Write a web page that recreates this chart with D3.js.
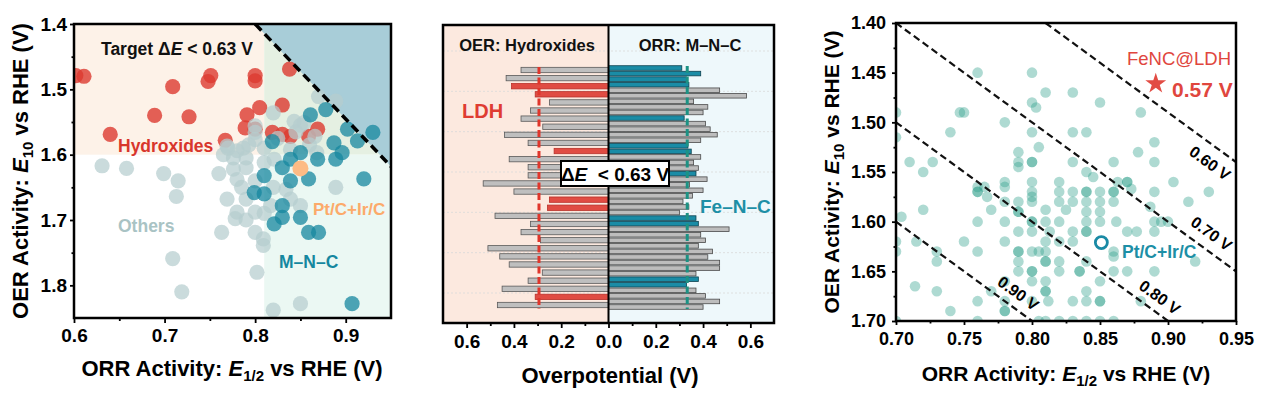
<!DOCTYPE html>
<html><head><meta charset="utf-8">
<script src="https://cdn.jsdelivr.net/npm/d3@7"></script>
<style>
body{margin:0;background:#fff;}
svg{display:block;font-family:"Liberation Sans",Arial,sans-serif;font-weight:bold;}
</style>
</head><body>
<svg id="c" width="1263" height="394"></svg>
<script>
// ---------------- DATA ----------------
// Panel 1: [E1/2 (ORR), E10 (OER)]
const hydroxidePts = [[0.602,1.479],[0.611,1.480],[0.751,1.479],[0.748,1.488],[0.709,1.496],[0.800,1.479],[0.800,1.487],[0.838,1.469],[0.689,1.540],[0.727,1.542],[0.640,1.569],[0.791,1.539],[0.805,1.528],[0.830,1.524],[0.789,1.559],[0.800,1.561],[0.819,1.566],[0.830,1.569],[0.839,1.572],[0.859,1.572],[0.869,1.561],[0.767,1.578]];
const mncPts = [[0.861,1.539],[0.878,1.531],[0.902,1.561],[0.930,1.566],[0.913,1.579],[0.887,1.582],[0.896,1.597],[0.889,1.607],[0.920,1.637],[0.850,1.597],[0.839,1.607],[0.830,1.620],[0.859,1.637],[0.839,1.640],[0.869,1.607],[0.810,1.632],[0.799,1.658],[0.810,1.660],[0.830,1.678],[0.821,1.706],[0.830,1.696],[0.850,1.696],[0.859,1.719],[0.870,1.719],[0.819,1.580],[0.907,1.828]];
const otherPts = [[0.631,1.617],[0.658,1.621],[0.699,1.629],[0.715,1.640],[0.713,1.664],[0.760,1.629],[0.769,1.587],[0.769,1.668],[0.780,1.688],[0.778,1.698],[0.763,1.719],[0.800,1.719],[0.809,1.729],[0.809,1.739],[0.709,1.759],[0.802,1.780],[0.719,1.810],[0.820,1.838],[0.850,1.828],[0.889,1.650],[0.870,1.511],[0.889,1.518],[0.820,1.536],[0.843,1.549],[0.854,1.551],[0.866,1.572],[0.868,1.597],[0.839,1.592],[0.780,1.594],[0.787,1.590],[0.793,1.585],[0.800,1.577],[0.776,1.622],[0.790,1.620],[0.780,1.638],[0.800,1.640],[0.790,1.668],[0.800,1.688],[0.817,1.678],[0.839,1.668],[0.850,1.678],[0.834,1.653],[0.810,1.612],[0.821,1.607],[0.800,1.556],[0.800,1.566],[0.776,1.605],[0.790,1.605],[0.810,1.590],[0.825,1.575],[0.845,1.565],[0.860,1.585],[0.820,1.650],[0.810,1.690],[0.790,1.700],[0.850,1.555],[0.785,1.650],[0.765,1.600],[0.770,1.590]];
const ptcIrc1 = [0.85, 1.621];
const targetLine = [[0.80,1.40],[0.95,1.618]];
const targetTriangle = [[0.80,1.40],[0.95,1.40],[0.95,1.618]];

// Panel 2: overpotentials (V)
const oerOverpot = [0.37,0.433,0.41,0.31,0.25,0.33,0.37,0.278,0.44,0.34,0.23,0.42,0.34,0.34,0.53,0.40,0.25,0.258,0.48,0.33,0.37,0.288,0.51,0.46,0.42,0.28,0.34,0.45,0.31,0.47];
const oerGroup   = ["O","O","L","L","O","O","O","O","O","O","L","O","O","O","O","O","L","L","O","O","O","O","O","O","O","O","O","O","L","O"];
const orrOverpot = [0.31,0.39,0.33,0.34,0.47,0.584,0.36,0.42,0.40,0.32,0.41,0.43,0.46,0.39,0.336,0.35,0.39,0.36,0.38,0.37,0.417,0.343,0.40,0.355,0.315,0.34,0.30,0.37,0.38,0.51,0.39,0.41,0.38,0.44,0.42,0.47,0.47,0.37,0.38,0.33,0.37,0.41,0.47,0.40];
const orrGroup   = ["F","F","F","F","O","O","O","O","O","F","O","O","O","O","F","F","O","O","O","F","O","O","O","O","O","O","O","F","F","O","O","O","O","O","O","O","O","O","F","F","O","O","O","O"];
const ldhMean = 0.294, fencMean = 0.333;
const xTicks2 = [-0.6,-0.4,-0.2,0,0.2,0.4,0.6];

// Panel 3
const allCatalysts = [
[0.76,1.45],[0.80,1.45],[0.81,1.47],[0.83,1.47],[0.80,1.48],[0.85,1.48],[0.803,1.485],
[0.747,1.49],[0.75,1.49],[0.88,1.49],[0.78,1.50],[0.74,1.51],[0.80,1.51],[0.83,1.51],[0.84,1.51],
[0.89,1.52],[0.805,1.525],[0.79,1.53],[0.878,1.53],
[0.71,1.54],[0.727,1.54],[0.79,1.54],[0.79,1.545],[0.80,1.54],[0.80,1.54],[0.83,1.54],[0.86,1.54],[0.89,1.54],
[0.72,1.55],[0.84,1.55],[0.845,1.555],
[0.78,1.56],[0.80,1.56],[0.82,1.56],[0.863,1.56],[0.87,1.56],[0.87,1.56],[0.904,1.56],
[0.76,1.565],[0.765,1.565],[0.78,1.565],
[0.76,1.57],[0.76,1.57],[0.80,1.57],[0.82,1.57],[0.83,1.57],[0.84,1.57],[0.84,1.57],[0.85,1.57],[0.86,1.57],[0.86,1.57],[0.89,1.57],[0.93,1.57],[0.873,1.567],
[0.767,1.575],[0.80,1.575],
[0.78,1.58],[0.79,1.58],[0.80,1.58],[0.82,1.58],[0.83,1.58],[0.84,1.58],[0.85,1.58],[0.86,1.58],[0.915,1.58],[0.887,1.585],
[0.72,1.588],[0.77,1.588],[0.81,1.588],[0.825,1.588],[0.79,1.59],[0.79,1.59],[0.84,1.59],[0.85,1.59],[0.704,1.595],
[0.76,1.60],[0.78,1.60],[0.80,1.60],[0.80,1.60],[0.81,1.60],[0.82,1.60],[0.84,1.60],[0.85,1.60],[0.862,1.60],[0.89,1.60],[0.895,1.60],[0.90,1.60],
[0.79,1.61],[0.80,1.61],[0.813,1.61],[0.83,1.61],[0.84,1.61],[0.84,1.61],[0.87,1.61],[0.877,1.61],[0.89,1.61],
[0.70,1.62],[0.715,1.62],[0.75,1.62],[0.78,1.62],[0.81,1.62],[0.82,1.62],[0.83,1.62],
[0.70,1.63],[0.73,1.63],[0.76,1.63],[0.79,1.63],[0.79,1.63],[0.80,1.63],[0.805,1.63],[0.81,1.63],[0.86,1.63],[0.86,1.635],
[0.73,1.64],[0.79,1.64],[0.81,1.64],[0.81,1.64],[0.82,1.64],[0.84,1.64],[0.92,1.64],
[0.79,1.65],[0.80,1.65],[0.80,1.65],[0.82,1.65],[0.835,1.65],[0.835,1.65],[0.86,1.65],[0.87,1.65],[0.89,1.65],
[0.78,1.66],[0.80,1.66],[0.81,1.66],[0.85,1.66],[0.714,1.665],
[0.73,1.67],[0.77,1.67],[0.81,1.67],[0.81,1.67],[0.84,1.67],
[0.76,1.68],[0.78,1.68],[0.80,1.68],[0.812,1.68],[0.83,1.68],[0.84,1.68],[0.85,1.68],[0.85,1.68],[0.88,1.68],
[0.74,1.69],[0.78,1.69],[0.78,1.69],
[0.70,1.70],[0.76,1.70],[0.805,1.70],[0.81,1.70],[0.82,1.70],[0.83,1.70],[0.84,1.70],[0.85,1.70],[0.86,1.70],
[0.70,1.49],[0.70,1.515]];
const feNCLDH = [0.891, 1.461];
const ptcIrc3 = [0.851, 1.621];
const dELines = [0.59, 0.70, 0.80, 0.90];
const dELabels = ["0.60 V","0.70 V","0.80 V","0.90 V"];
const dELabelAt = [[0.931,1.541],[0.932,1.612],[0.894,1.676],[0.790,1.672]];

// ---------------- DRAW ----------------
const FONT = '"Liberation Sans", Arial, sans-serif';
const svg = d3.select("#c");
const defs = svg.append("defs");

function styleAxis(g, fs){
  g.attr("font-family", FONT).attr("font-size", fs).attr("font-weight","bold");
  g.select(".domain").remove();
  g.selectAll(".tick line").attr("stroke","#000").attr("stroke-width",1.8);
  g.selectAll(".tick text").attr("fill","#000");
}
function clip(id, x, y, w, h){
  defs.append("clipPath").attr("id", id).append("rect").attr("x",x).attr("y",y).attr("width",w).attr("height",h);
}
function subTitle(g, parts){
  const t = g.append("text").attr("text-anchor","middle").attr("font-size",22).attr("fill","#000");
  parts.forEach(([s, type])=>{
    const ts = t.append("tspan").text(s);
    if(type==="i") ts.attr("font-style","italic");
    if(type==="sub") ts.attr("font-size",15).attr("dy",5);
    if(type==="after") ts.attr("dy",-5);
  });
  return t;
}

// ===== Panel 1 =====
const x1 = d3.scaleLinear().domain([0.6,0.95]).range([74,391]);
const y1 = d3.scaleLinear().domain([1.4,1.85]).range([24,318]);
clip("cp1", 74, 24, 317, 294);
const p1 = svg.append("g");
const bg1 = p1.append("g").attr("clip-path","url(#cp1)");
bg1.append("rect").attr("x",x1(0.6)).attr("y",y1(1.4)).attr("width",x1(0.81)-x1(0.6)).attr("height",y1(1.6)-y1(1.4)).attr("fill","#fdf2e8");
bg1.append("rect").attr("x",x1(0.81)).attr("y",y1(1.4)).attr("width",x1(0.95)-x1(0.81)).attr("height",y1(1.6)-y1(1.4)).attr("fill","#e5f0e2");
bg1.append("rect").attr("x",x1(0.81)).attr("y",y1(1.6)).attr("width",x1(0.95)-x1(0.81)).attr("height",y1(1.85)-y1(1.6)).attr("fill","#ebf8f3");
bg1.append("polygon").attr("points", targetTriangle.map(d=>[x1(d[0]),y1(d[1])].join(",")).join(" ")).attr("fill","#a8cdd8");

const R1 = 7.6;
const pts1 = p1.append("g").attr("clip-path","url(#cp1)");
pts1.selectAll("circle.r").data(hydroxidePts).join("circle").attr("class","r")
  .attr("cx",d=>x1(d[0])).attr("cy",d=>y1(d[1])).attr("r",R1).attr("fill","#dc3a30").attr("fill-opacity",0.8);
pts1.selectAll("circle.g").data(otherPts).join("circle").attr("class","g")
  .attr("cx",d=>x1(d[0])).attr("cy",d=>y1(d[1])).attr("r",R1).attr("fill","#b5cdce").attr("fill-opacity",0.72);
pts1.selectAll("circle.t").data(mncPts).join("circle").attr("class","t")
  .attr("cx",d=>x1(d[0])).attr("cy",d=>y1(d[1])).attr("r",R1).attr("fill","#15879f").attr("fill-opacity",0.75);
pts1.append("circle").attr("cx",x1(ptcIrc1[0])).attr("cy",y1(ptcIrc1[1])).attr("r",8).attr("fill","#fdbb85");
pts1.append("line").attr("x1",x1(targetLine[0][0])).attr("y1",y1(targetLine[0][1])).attr("x2",x1(targetLine[1][0])).attr("y2",y1(targetLine[1][1]))
  .attr("stroke","#000").attr("stroke-width",3.5).attr("stroke-dasharray","9,5");

const tt = p1.append("text").attr("x",101).attr("y",55).attr("font-size",17.5).attr("fill","#111");
tt.append("tspan").text("Target Δ");
tt.append("tspan").attr("font-style","italic").text("E");
tt.append("tspan").text(" < 0.63 V");
p1.append("text").attr("x",118).attr("y",152).attr("font-size",17.5).attr("fill","#d8362c").text("Hydroxides");
p1.append("text").attr("x",118).attr("y",232).attr("font-size",17.5).attr("fill","#a9c3c4").text("Others");
p1.append("text").attr("x",313).attr("y",215).attr("font-size",17).attr("fill","#fcaa6a").text("Pt/C+Ir/C");
p1.append("text").attr("x",279).attr("y",268).attr("font-size",17.5).attr("fill","#15879f").text("M–N–C");

p1.append("rect").attr("x",74).attr("y",24).attr("width",317).attr("height",294).attr("fill","none").attr("stroke","#000").attr("stroke-width",2.5);
const ax1b = p1.append("g").attr("transform","translate(0,318)");
ax1b.call(d3.axisBottom(x1).tickValues([0.6,0.7,0.8,0.9]).tickFormat(d3.format(".1f")).tickSize(5).tickPadding(6)); styleAxis(ax1b,19);
const ax1bm = p1.append("g").attr("transform","translate(0,318)");
ax1bm.call(d3.axisBottom(x1).tickValues([0.65,0.75,0.85]).tickFormat("").tickSize(3)); styleAxis(ax1bm,19);
const ax1l = p1.append("g").attr("transform","translate(74,0)");
ax1l.call(d3.axisLeft(y1).tickValues([1.4,1.5,1.6,1.7,1.8]).tickFormat(d3.format(".1f")).tickSize(4).tickPadding(3)); styleAxis(ax1l,19);
const ax1lm = p1.append("g").attr("transform","translate(74,0)");
ax1lm.call(d3.axisLeft(y1).tickValues([1.45,1.55,1.65,1.75]).tickFormat("").tickSize(2.5)); styleAxis(ax1lm,19);

subTitle(p1.append("g").attr("transform","translate(232,376)"),
  [["ORR Activity: ",""],["E","i"],["1/2","sub"],[" vs RHE (V)","after"]]);
subTitle(p1.append("g").attr("transform","translate(28,171) rotate(-90)"),
  [["OER Activity: ",""],["E","i"],["10","sub"],[" vs RHE (V)","after"]]);

// ===== Panel 2 =====
const x2 = d3.scaleLinear().domain([-0.7,0.7]).range([443,774]);
const top2 = 25, bot2 = 323;
const yL = d3.scalePoint().domain(d3.range(oerOverpot.length)).range([70,305]);
const yR = d3.scalePoint().domain(d3.range(orrOverpot.length)).range([68,307]);
const gy = d3.scaleLinear().domain([0,6]).range([51,293]);
const p2 = svg.append("g");
p2.append("rect").attr("x",x2(-0.7)).attr("y",top2).attr("width",x2(0)-x2(-0.7)).attr("height",bot2-top2).attr("fill","#fce9df");
p2.append("rect").attr("x",x2(0)).attr("y",top2).attr("width",x2(0.7)-x2(0)).attr("height",bot2-top2).attr("fill","#eef8fb");
p2.selectAll("line.grid").data(d3.range(0,7)).join("line").attr("class","grid")
  .attr("x1",x2(-0.7)).attr("x2",x2(0.7)).attr("y1",d=>gy(d)).attr("y2",d=>gy(d))
  .attr("stroke","#d9d9d9").attr("stroke-width",0.8).attr("stroke-dasharray","2,2");

const hL = yL.step()*0.66, hR = yR.step()*0.82;
const colL = {O:["#bfbfbf","#5a5a5a"], L:["#e04c43","#b8312a"]};
const colR = {O:["#bdbdbd","#4a4a4a"], F:["#1a8ca6","#0d4250"]};
p2.selectAll("rect.bl").data(oerOverpot).join("rect").attr("class","bl")
  .attr("x",d=>x2(-d)).attr("y",(d,i)=>yL(i)-hL/2).attr("width",d=>x2(0)-x2(-d)).attr("height",hL)
  .attr("fill",(d,i)=>colL[oerGroup[i]][0]).attr("stroke",(d,i)=>colL[oerGroup[i]][1]).attr("stroke-width",0.8);
p2.selectAll("rect.br").data(orrOverpot).join("rect").attr("class","br")
  .attr("x",x2(0)).attr("y",(d,i)=>yR(i)-hR/2).attr("width",d=>x2(d)-x2(0)).attr("height",hR)
  .attr("fill",(d,i)=>colR[orrGroup[i]][0]).attr("stroke",(d,i)=>colR[orrGroup[i]][1]).attr("stroke-width",0.8);

p2.append("line").attr("x1",x2(-ldhMean)).attr("x2",x2(-ldhMean)).attr("y1",67).attr("y2",309)
  .attr("stroke","#e0362b").attr("stroke-width",3).attr("stroke-dasharray","7,3.5");
p2.append("line").attr("x1",x2(fencMean)).attr("x2",x2(fencMean)).attr("y1",66).attr("y2",309)
  .attr("stroke","#1c9284").attr("stroke-width",3).attr("stroke-dasharray","7,3.5");
p2.append("line").attr("x1",x2(0)).attr("x2",x2(0)).attr("y1",top2).attr("y2",bot2).attr("stroke","#000").attr("stroke-width",2);

p2.append("text").attr("x",527).attr("y",51).attr("text-anchor","middle").attr("font-size",16.5).attr("fill","#111").text("OER: Hydroxides");
p2.append("text").attr("x",690).attr("y",51).attr("text-anchor","middle").attr("font-size",16.5).attr("fill","#111").text("ORR: M–N–C");
p2.append("text").attr("x",462).attr("y",118).attr("font-size",20).attr("fill","#df3c32").text("LDH");
p2.append("text").attr("x",700).attr("y",213).attr("font-size",19).attr("fill","#1d8fa6").text("Fe–N–C");
p2.append("rect").attr("x",561).attr("y",161).attr("width",108).attr("height",25).attr("fill","#fff").attr("stroke","#000").attr("stroke-width",2);
const bt = p2.append("text").attr("x",615).attr("y",180.5).attr("text-anchor","middle").attr("font-size",19).attr("fill","#000");
bt.append("tspan").text("Δ");
bt.append("tspan").attr("font-style","italic").text("E");
bt.append("tspan").text("\u00A0 < 0.63 V");

p2.append("rect").attr("x",443).attr("y",top2).attr("width",331).attr("height",bot2-top2).attr("fill","none").attr("stroke","#000").attr("stroke-width",2.5);
const ax2 = p2.append("g").attr("transform",`translate(0,${bot2})`);
ax2.call(d3.axisBottom(x2).tickValues(xTicks2).tickFormat(d=>d3.format(".1f")(Math.abs(d))).tickSize(5).tickPadding(7)); styleAxis(ax2,19);
const ax2m = p2.append("g").attr("transform",`translate(0,${bot2})`);
ax2m.call(d3.axisBottom(x2).tickValues([-0.5,-0.3,-0.1,0.1,0.3,0.5]).tickFormat("").tickSize(3)); styleAxis(ax2m,19);
p2.append("text").attr("x",610).attr("y",383).attr("text-anchor","middle").attr("font-size",22).attr("fill","#000").text("Overpotential (V)");

// ===== Panel 3 =====
const x3 = d3.scaleLinear().domain([0.70,0.95]).range([896,1236]);
const y3 = d3.scaleLinear().domain([1.40,1.70]).range([23,321]);
clip("cp3", 896, 23, 340, 298);
const p3 = svg.append("g");
const pl3 = p3.append("g").attr("clip-path","url(#cp3)");
pl3.selectAll("circle.a").data(allCatalysts).join("circle").attr("class","a")
  .attr("cx",d=>x3(d[0])).attr("cy",d=>y3(d[1])).attr("r",5.3).attr("fill","#2a9f8a").attr("fill-opacity",0.38);
dELines.forEach(dE=>{
  const xa = Math.max(0.70, 1.40-dE), xb = Math.min(0.95, 1.70-dE);
  pl3.append("line").attr("x1",x3(xa)).attr("y1",y3(xa+dE)).attr("x2",x3(xb)).attr("y2",y3(xb+dE))
    .attr("stroke","#111").attr("stroke-width",2.2).attr("stroke-dasharray","7,4");
});
const ang = Math.atan((y3(1.5)-y3(1.4))/(x3(0.8)-x3(0.7)))*180/Math.PI;
dELabels.forEach((lab,i)=>{
  const [lx,ly] = dELabelAt[i];
  p3.append("text").attr("transform",`translate(${x3(lx)},${y3(ly)}) rotate(${ang})`)
    .attr("text-anchor","middle").attr("dy","0.36em").attr("font-size",16).attr("fill","#000").text(lab);
});
pl3.append("circle").attr("cx",x3(ptcIrc3[0])).attr("cy",y3(ptcIrc3[1])).attr("r",6).attr("fill","none").attr("stroke","#1a8aa5").attr("stroke-width",2.8);
p3.append("path").attr("d",d3.symbol(d3.symbolStar,135)()).attr("transform",`translate(${x3(feNCLDH[0])},${y3(feNCLDH[1])})`).attr("fill","#e24c44");
p3.append("text").attr("x",1179).attr("y",65).attr("text-anchor","middle").attr("font-size",18.5).attr("font-weight","normal").attr("fill","#e0463e").text("FeNC@LDH");
p3.append("text").attr("x",1172).attr("y",97).attr("font-size",21).attr("fill","#e0463e").text("0.57 V");
p3.append("text").attr("x",1122).attr("y",258).attr("font-size",17.5).attr("fill","#1d8fa6").text("Pt/C+Ir/C");

p3.append("rect").attr("x",896).attr("y",23).attr("width",340).attr("height",298).attr("fill","none").attr("stroke","#000").attr("stroke-width",2.5);
const ax3b = p3.append("g").attr("transform","translate(0,321)");
ax3b.call(d3.axisBottom(x3).tickValues([0.70,0.75,0.80,0.85,0.90,0.95]).tickFormat(d3.format(".2f")).tickSize(4).tickPadding(7)); styleAxis(ax3b,18);
const ax3bm = p3.append("g").attr("transform","translate(0,321)");
ax3bm.call(d3.axisBottom(x3).tickValues([0.725,0.775,0.825,0.875,0.925]).tickFormat("").tickSize(2.5)); styleAxis(ax3bm,18);
const ax3l = p3.append("g").attr("transform","translate(896,0)");
ax3l.call(d3.axisLeft(y3).tickValues([1.40,1.45,1.50,1.55,1.60,1.65,1.70]).tickFormat(d3.format(".2f")).tickSize(4).tickPadding(6)); styleAxis(ax3l,18);
const ax3lm = p3.append("g").attr("transform","translate(896,0)");
ax3lm.call(d3.axisLeft(y3).tickValues([1.425,1.475,1.525,1.575,1.625,1.675]).tickFormat("").tickSize(2.5)); styleAxis(ax3lm,18);

subTitle(p3.append("g").attr("transform","translate(1066,381)"),
  [["ORR Activity: ",""],["E","i"],["1/2","sub"],[" vs RHE (V)","after"]]).attr("font-size",21);
subTitle(p3.append("g").attr("transform","translate(839,172) rotate(-90)"),
  [["OER Activity: ",""],["E","i"],["10","sub"],[" vs RHE (V)","after"]]).attr("font-size",21);
</script>
</body></html>
